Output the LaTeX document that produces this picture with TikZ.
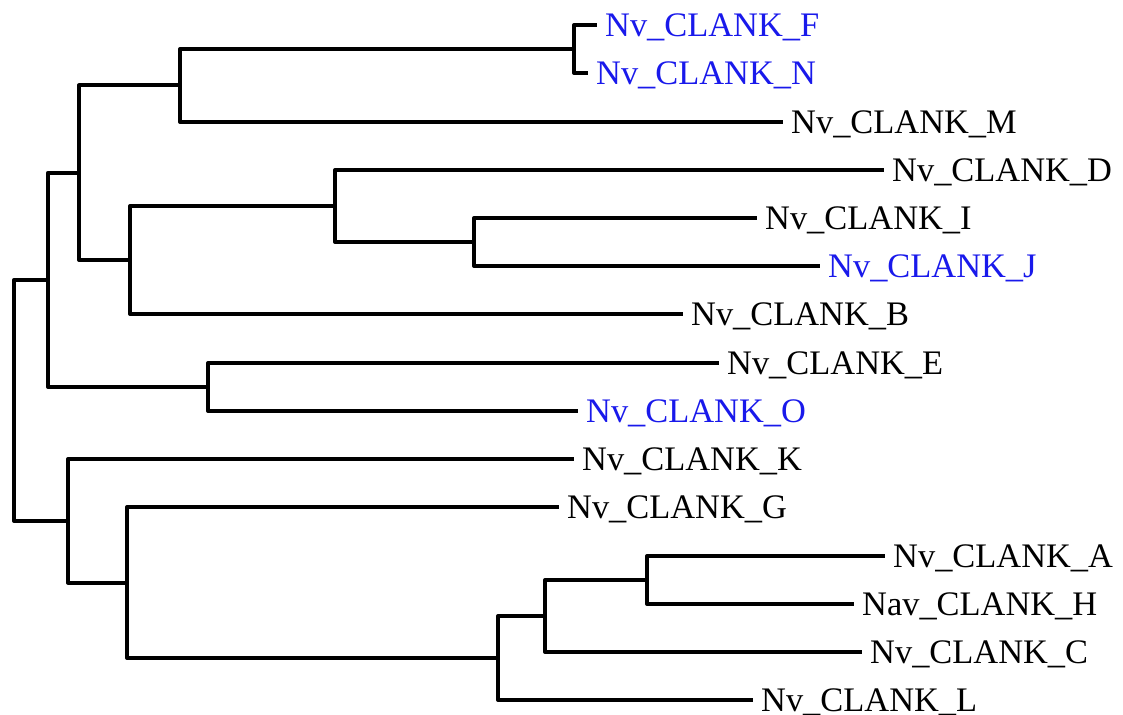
\documentclass[tikz,border=0pt]{standalone}
\usepackage{fontspec}
\setmainfont{Liberation Serif}
\definecolor{hilite}{RGB}{25,25,235}
\begin{document}
\begin{tikzpicture}[x=1pt,y=-1pt,
  branch/.style={line width=4pt,line join=round,line cap=butt},
  leaf/.style={anchor=west,inner xsep=8pt,inner ysep=0pt,text height=22.8pt,text depth=0pt,
    font=\fontsize{34.4}{40}\selectfont},
  hl/.style={leaf,text=hilite}]
\useasboundingbox (0,0) rectangle (1123,714);
% leaves: the node's west point is the branch tip
\node[hl]   (F) at (597,25)  {Nv\_CLANK\_F};
\node[hl]   (N) at (588,73)  {Nv\_CLANK\_N};
\node[leaf] (M) at (783,122) {Nv\_CLANK\_M};
\node[leaf] (D) at (884,170) {Nv\_CLANK\_D};
\node[leaf] (I) at (757,218) {Nv\_CLANK\_I};
\node[hl]   (J) at (820,266) {Nv\_CLANK\_J};
\node[leaf] (B) at (683,314) {Nv\_CLANK\_B};
\node[leaf] (E) at (719,363) {Nv\_CLANK\_E};
\node[hl]   (O) at (578,411) {Nv\_CLANK\_O};
\node[leaf] (K) at (574,459) {Nv\_CLANK\_K};
\node[leaf] (G) at (559,507) {Nv\_CLANK\_G};
\node[leaf] (A) at (885,556) {Nv\_CLANK\_A};
\node[leaf] (H) at (854,604) {Nav\_CLANK\_H};
\node[leaf] (C) at (862,652) {Nv\_CLANK\_C};
\node[leaf] (L) at (753,700) {Nv\_CLANK\_L};
% internal nodes
\coordinate (fn)    at (574,49);
\coordinate (fnm)   at (180,85.5);
\coordinate (ij)    at (474,242);
\coordinate (dij)   at (335,206);
\coordinate (dijb)  at (130,260);
\coordinate (top)   at (79,172.75);
\coordinate (eo)    at (208,387);
\coordinate (upper) at (48,279.9);
\coordinate (ah)    at (647,580);
\coordinate (ahc)   at (545,616);
\coordinate (ahcl)  at (498,658);
\coordinate (gx)    at (127,582.5);
\coordinate (lower) at (68,520.75);
\coordinate (root)  at (14,400.3);
% branches
\begin{scope}[branch]
\draw (fn) |- (F.west);  \draw (fn) |- (N.west);
\draw (fnm) |- (fn);     \draw (fnm) |- (M.west);
\draw (ij) |- (I.west);  \draw (ij) |- (J.west);
\draw (dij) |- (D.west); \draw (dij) |- (ij);
\draw (dijb) |- (dij);   \draw (dijb) |- (B.west);
\draw (top) |- (fnm);    \draw (top) |- (dijb);
\draw (eo) |- (E.west);  \draw (eo) |- (O.west);
\draw (upper) |- (top);  \draw (upper) |- (eo);
\draw (ah) |- (A.west);  \draw (ah) |- (H.west);
\draw (ahc) |- (ah);     \draw (ahc) |- (C.west);
\draw (ahcl) |- (ahc);   \draw (ahcl) |- (L.west);
\draw (gx) |- (G.west);  \draw (gx) |- (ahcl);
\draw (lower) |- (K.west); \draw (lower) |- (gx);
\draw (root) |- (upper); \draw (root) |- (lower);
\end{scope}
\end{tikzpicture}
\end{document}
